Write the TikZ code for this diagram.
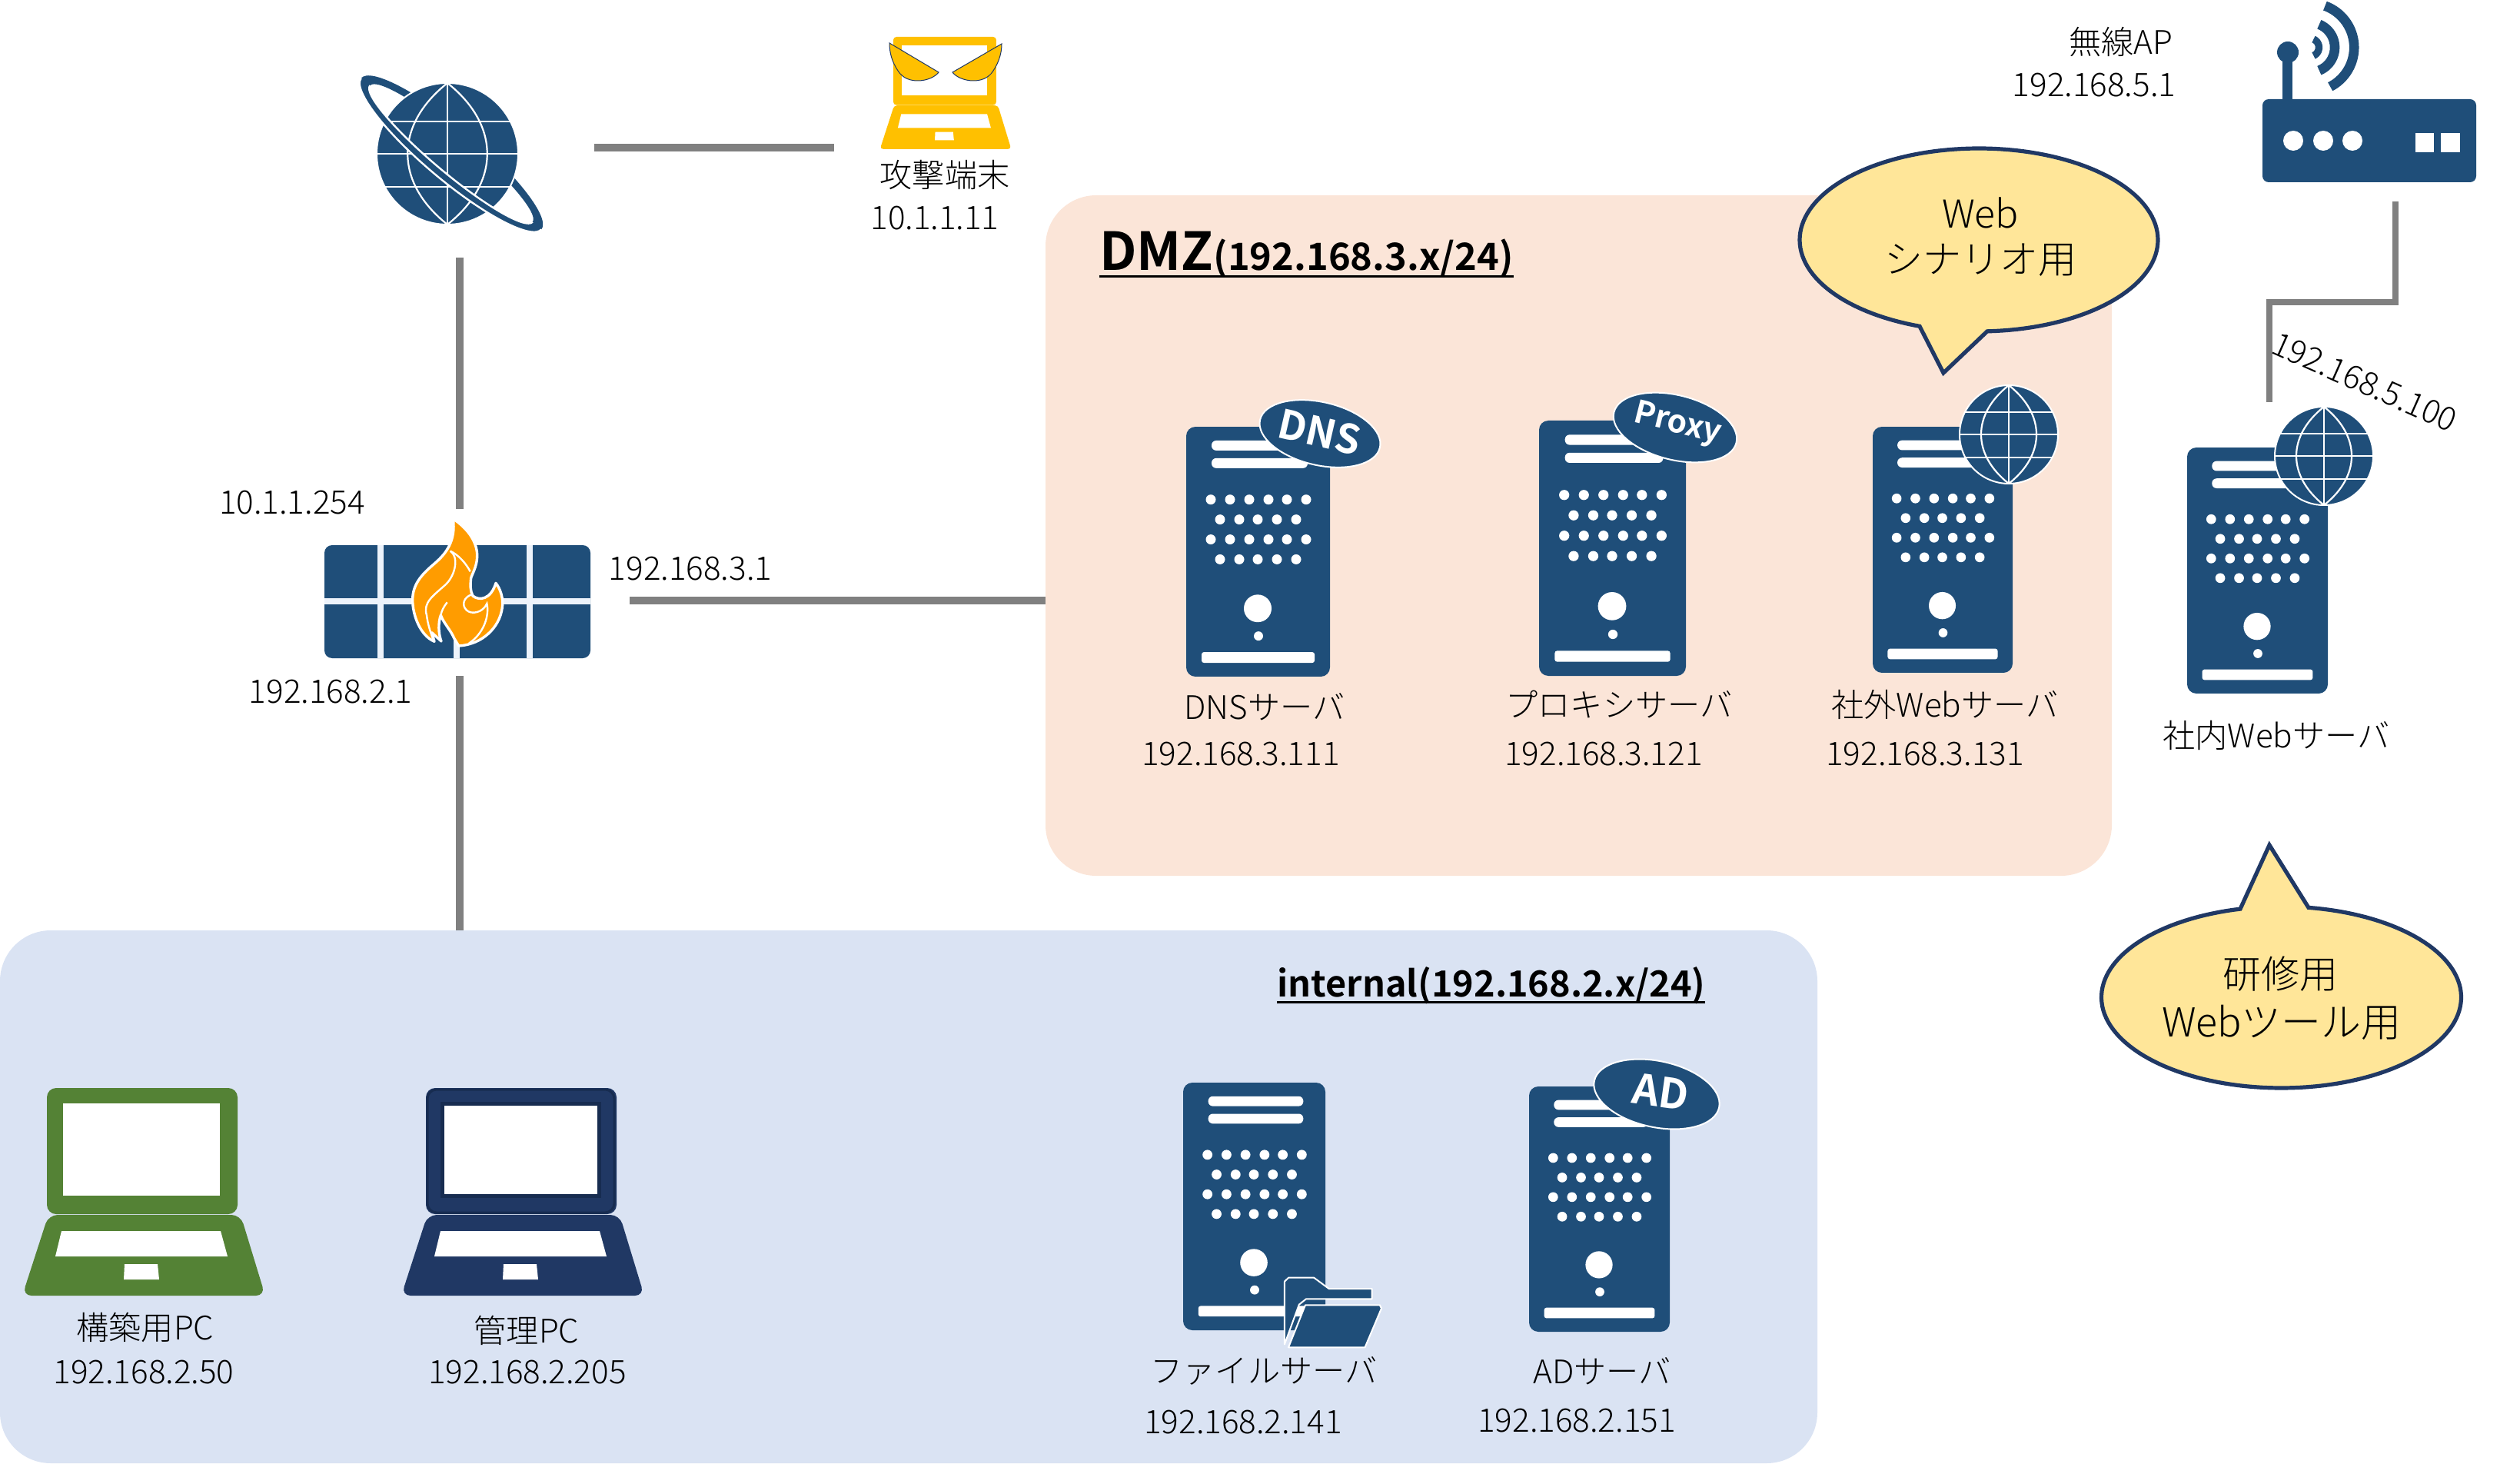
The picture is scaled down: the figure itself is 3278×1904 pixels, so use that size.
\documentclass[tikz,border=0pt]{standalone}
\usepackage{fontspec}
\setmainfont{Noto Sans CJK JP}[UprightFont=* Light,BoldFont=* Bold]
\usetikzlibrary{calc}
\definecolor{navy}{HTML}{1F4E79}
\definecolor{deep}{HTML}{203864}
\definecolor{deeper}{HTML}{172C50}
\definecolor{wire}{HTML}{808080}
\definecolor{dmzfill}{HTML}{FBE5D8}
\definecolor{intfill}{HTML}{DAE3F3}
\definecolor{notefill}{HTML}{FFE699}
\definecolor{gold}{HTML}{FFC000}
\definecolor{flame}{HTML}{FF9C00}
\definecolor{leaf}{HTML}{548235}
\definecolor{pane}{HTML}{EDF3FB}
\newcommand\ulb[1]{\setbox0=\hbox{#1}\rlap{\rule[-4.6pt]{\wd0}{1.5pt}}\box0}
% server: x y w h
\newcommand\srv[4]{%
\begin{scope}[shift={(#1,#2)},xscale=#3/187,yscale=#4/326]
 \fill[navy,rounded corners=6pt] (0,0) rectangle (187,326);
 \fill[white,rounded corners=3pt] (33,18) rectangle (158,31);
 \fill[white,rounded corners=3pt] (33,41) rectangle (158,54);
 \foreach \px in {32,57,82,107,131,156}{
  \fill[white] (\px,95) ellipse[x radius=6.5,y radius=6.5];
  \fill[white] (\px,147) ellipse[x radius=6.5,y radius=6.5];}
 \foreach \px in {44,69,93,118,143}{
  \fill[white] (\px,121) ellipse[x radius=6.5,y radius=6.5];
  \fill[white] (\px,173) ellipse[x radius=6.5,y radius=6.5];}
 \fill[white] (93,237) ellipse[x radius=18,y radius=18];
 \fill[white] (94,273) ellipse[x radius=6,y radius=6];
 \fill[white,rounded corners=1.5pt] (20,294) rectangle (167,308);
\end{scope}}
% globe: cx cy r halo
\newcommand\globe[4]{%
\begin{scope}[shift={(#1,#2)},scale=#3/64]
 \filldraw[navy,draw=white,line width=#4] (0,0) ellipse[x radius=64,y radius=64];
 \begin{scope}[white,line width=1.1pt]
  \draw (0,-64) -- (0,64);
  \draw (-64,0) -- (64,0);
  \draw (-57,-29) -- (57,-29);
  \draw (-57,30) -- (57,30);
  \draw (0,-64) .. controls (-48,-26) and (-48,26) .. (0,64);
  \draw (0,-64) .. controls (48,-26) and (48,26) .. (0,64);
 \end{scope}
\end{scope}}
% laptop: x y scale colour corner
\newcommand\laptop[5]{%
\begin{scope}[shift={(#1,#2)},scale=#3]
 \fill[#4,rounded corners=#5] (0,0) rectangle (248,164);
 \fill[white] (21,20) rectangle (225,140);
 \fill[#4,rounded corners=#5] (2,165) -- (252,165) -- (284,270) -- (-32,270) -- cycle;
 \fill[white] (19,186) -- (226,186) -- (235,219) -- (11,219) -- cycle;
 \fill[white] (101,229) -- (144,229) -- (146,249) -- (100,249) -- cycle;
\end{scope}}
\tikzset{
 x=0.5pt,y=-0.5pt,
 lbl/.style={inner sep=0pt,text=black,font=\fontsize{21.1}{24}\selectfont},
 note/.style={inner sep=0pt,text=black,font=\fontsize{25}{30.5}\selectfont,align=center},
 wirepath/.style={draw=wire,line width=5pt},
 wirethin/.style={draw=wire,line width=4.4pt},
 callout/.style={fill=notefill,draw=deep,line width=2.6pt,line join=miter},
 badge/.style={fill=navy,draw=white,line width=1pt},
 badgetxt/.style={inner sep=0pt,text=white,font=\fontsize{26}{28}\selectfont\bfseries},
}
\begin{document}
\begin{tikzpicture}
\useasboundingbox (0,0) rectangle (3278,1904);
% zones
\fill[dmzfill,rounded corners=33pt] (1360,254) rectangle (2747,1139);
\fill[intfill,rounded corners=33pt] (0,1210) rectangle (2364,1903);
% connector ends
\coordinate (inetS) at (598,335);
\coordinate (fwN) at (598,662);
\coordinate (fwS) at (598,879);
\coordinate (intN) at (598,1210);
\coordinate (inetE) at (773,192);
\coordinate (atkW) at (1085,192);
\coordinate (fwE) at (819,781);
\coordinate (dmzW) at (1360,781);
\coordinate (apS) at (3116,262);
\coordinate (bendA) at (3116,393);
\coordinate (bendB) at (2952,393);
\coordinate (webN) at (2952,523);
\draw[wirepath] (inetS) -- (fwN);
\draw[wirepath] (fwS) -- (intN);
\draw[wirepath,line width=5pt] (inetE) -- (atkW);
\draw[wirepath] (fwE) -- (dmzW);
\draw[wirethin,line join=miter] (apS) -- (bendA) -- (bendB) -- (webN);
% internet globe with ring
\begin{scope}[shift={(587,200)},rotate=-40]
 \fill[navy,even odd rule] (0,0) ellipse[x radius=153,y radius=34] (0,0) ellipse[x radius=138,y radius=24];
\end{scope}
\begin{scope}[shift={(582,200)},scale=92/64]
 \filldraw[navy,draw=white,line width=1pt] (0,0) ellipse[x radius=64,y radius=64];
 \begin{scope}[white,line width=1.1pt]
  \draw (0,-64) -- (0,64);
  \draw (-64,0) -- (64,0);
  \draw (-57,-29) -- (57,-29);
  \draw (-57,30) -- (57,30);
  \draw (0,-64) .. controls (-48,-26) and (-48,26) .. (0,64);
  \draw (0,-64) .. controls (48,-26) and (48,26) .. (0,64);
 \end{scope}
\end{scope}
\begin{scope}[shift={(587,200)},rotate=-40]
 \clip (-200,0) rectangle (200,60);
 \filldraw[navy,draw=white,line width=1.2pt,even odd rule] (0,0) ellipse[x radius=153,y radius=34] (0,0) ellipse[x radius=138,y radius=24];
\end{scope}
% attacker
\laptop{1162}{48}{0.54}{gold}{2pt}
\filldraw[gold,draw=deep,line width=0.5pt] (1157,56) -- (1221,94) .. controls (1212,106) and (1180,112) .. (1168,92) .. controls (1160,80) and (1157,68) .. cycle;
\filldraw[gold,draw=deep,line width=0.5pt] (1303,57) -- (1239,94) .. controls (1248,106) and (1280,112) .. (1292,92) .. controls (1300,80) and (1303,68) .. cycle;
% firewall
\fill[navy,rounded corners=5pt] (422,709) rectangle (768,856);
\begin{scope}[pane,line width=4pt]
 \draw (495,709) -- (495,856);
 \draw (689,709) -- (689,856);
 \draw (422,782) -- (768,782);
 \draw (594,800) -- (594,856);
\end{scope}
\begin{scope}[shift={(380,640)},scale=1/3]
 \filldraw[flame,draw=white,line width=1.7pt,line join=round]
  (628,104) .. controls (690,145) and (725,200) .. (722,255)
  .. controls (720,290) and (705,315) .. (698,335)
  .. controls (695,365) and (695,385) .. (705,405)
  .. controls (730,425) and (775,420) .. (795,355)
  .. controls (815,380) and (825,420) .. (820,450)
  .. controls (810,530) and (740,595) .. (650,600)
  -- (632,570)
  .. controls (620,540) and (590,510) .. (580,480)
  .. controls (570,510) and (570,550) .. (582,582)
  -- (545,548) -- (555,583)
  .. controls (500,560) and (470,480) .. (470,420)
  .. controls (470,350) and (520,310) .. (560,275)
  .. controls (600,240) and (640,190) .. (628,104) -- cycle;
 \begin{scope}[white,line width=1.2pt]
  \draw (617,230) .. controls (650,250) and (640,320) .. (600,360) .. controls (550,405) and (510,430) .. (525,480) .. controls (530,520) and (540,545) .. (550,575);
  \draw (617,230) .. controls (650,245) and (680,280) .. (695,310);
  \draw (700,400) .. controls (670,410) and (660,440) .. (680,460) .. controls (700,480) and (745,470) .. (760,435) .. controls (770,480) and (750,550) .. (690,590);
  \draw (605,430) .. controls (590,450) and (585,460) .. (580,480);
 \end{scope}
\end{scope}
% wireless router
\fill[navy,rounded corners=4pt] (2943,129) rectangle (3221,237);
\fill[navy] (2969,60) rectangle (2982,130);
\fill[navy] (2976,68) ellipse[x radius=14,y radius=14];
\foreach \cx in {2983,3022,3060}{\fill[white] (\cx,183) ellipse[x radius=13,y radius=13];}
\fill[white] (3142,173) rectangle (3166,198);
\fill[white] (3175,173) rectangle (3200,198);
\begin{scope}[navy]
 \draw[line width=6.3pt] plot[domain=-70:62.6,samples=40] ({3004.7+57.5*cos(\x)},{61.7+57.5*sin(\x)});
 \draw[line width=6.3pt] plot[domain=-68:68,samples=40] ({3004.7+32.3*cos(\x)},{61.7+32.3*sin(\x)});
 \draw[line width=4.7pt] plot[domain=-66:66,samples=30] ({3004.7+11.7*cos(\x)},{61.7+11.7*sin(\x)});
\end{scope}
% servers
\srv{1543}{555}{187}{325}
\filldraw[badge,rotate around={-13:(1717,564)}] (1717,564) ellipse[x radius=80,y radius=41];
\node[badgetxt,rotate=-13] (dnsbadge) at (1717,562) {DNS};
\srv{2002}{547}{191}{332}
\filldraw[badge,rotate around={-14:(2179,556)}] (2179,556) ellipse[x radius=82,y radius=42];
\node[badgetxt,rotate=-14,font=\fontsize{20.5}{24}\selectfont\bfseries] (proxybadge) at (2182,552) {Proxy};
\srv{2436}{555}{182}{320}
\globe{2613}{565}{64}{1pt}
\srv{2845}{582}{183}{320}
\globe{3023}{593}{64}{1pt}
\srv{1539}{1408}{185}{322}
\begin{scope}[shift={(1500,1400)},xscale=1/1.96,yscale=1/3,line join=round]
 \filldraw[navy,draw=white,line width=1pt] (335,1045) -- (335,800) -- (345,785) -- (410,785) -- (448,828) -- (558,828) -- (558,868) -- (390,868) -- (372,890) -- cycle;
 \filldraw[navy,draw=white,line width=1pt] (388,892) -- (578,892) -- (582,905) -- (540,1057) -- (345,1057) -- cycle;
\end{scope}
\srv{1989}{1413}{183}{319}
\filldraw[badge,rotate around={-12:(2155,1423)}] (2155,1423) ellipse[x radius=83,y radius=43];
\node[badgetxt,rotate=-8,font=\fontsize{27}{29}\selectfont\bfseries] (adbadge) at (2160,1420) {AD};
% laptops
\laptop{61}{1415}{1}{leaf}{6pt}
\laptop{554}{1415}{1}{deep}{6pt}
\draw[deeper,line width=1.5pt,rounded corners=6pt] (556,1417) rectangle (799,1577);
\fill[deeper] (573,1433) rectangle (782,1558);
\fill[white] (578,1438) rectangle (777,1553);
% callouts
\filldraw[callout] plot[domain=109.3:447.3,samples=140] ({2574+233*cos(\x)},{312+119*sin(\x)}) -- (2528,485) -- cycle;
\filldraw[callout] plot[domain=-81.3:256.8,samples=140] ({2967.5+234*cos(\x)},{1297+118*sin(\x)}) -- (2952,1099) -- cycle;
\node[note] (noteA1) at (2576,277) {Web};
\node[note] (noteA2) at (2576,338) {シナリオ用};
\node[note] (noteB1) at (2966,1267) {研修用};
\node[note,font=\fontsize{26}{30.5}\selectfont] (noteB2) at (2968,1330) {Webツール用};
% zone titles
\node[anchor=base west,inner sep=0pt] (dmztitle) at (1430,352) {\ulb{\bfseries\fontsize{34}{36}\selectfont DMZ\fontsize{24.4}{30}\selectfont(192.168.3.x/24)}};
\node[anchor=base west,inner sep=0pt] (inttitle) at (1661,1296) {\ulb{\bfseries\fontsize{23.4}{30}\selectfont internal(192.168.2.x/24)}};
% labels
\node[lbl] (l01) at (1229,228) {攻撃端末};
\node[lbl] (l02) at (1216,284) {10.1.1.11};
\node[lbl] (l03) at (2759,55) {無線AP};
\node[lbl] (l04) at (2724,111) {192.168.5.1};
\node[lbl] (l05) at (380,654) {10.1.1.254};
\node[lbl] (l06) at (898,740) {192.168.3.1};
\node[lbl] (l07) at (430,900) {192.168.2.1};
\node[lbl] (l08) at (1645,919) {DNSサーバ};
\node[lbl] (l09) at (1614,981) {192.168.3.111};
\node[lbl] (l10) at (2106,916) {プロキシサーバ};
\node[lbl] (l11) at (2086,981) {192.168.3.121};
\node[lbl] (l12) at (2530,916) {社外Webサーバ};
\node[lbl] (l13) at (2504,981) {192.168.3.131};
\node[lbl] (l14) at (2961,956) {社内Webサーバ};
\node[lbl] (l15) at (1644,1783) {ファイルサーバ};
\node[lbl] (l16) at (1617,1850) {192.168.2.141};
\node[lbl] (l17) at (2084,1783) {ADサーバ};
\node[lbl] (l18) at (2051,1848) {192.168.2.151};
\node[lbl] (l19) at (189,1726) {構築用PC};
\node[lbl] (l20) at (187,1785) {192.168.2.50};
\node[lbl] (l21) at (685,1730) {管理PC};
\node[lbl] (l22) at (686,1785) {192.168.2.205};
\node[lbl,rotate=-24] (l23) at (3076,497) {192.168.5.100};
\end{tikzpicture}
\end{document}
